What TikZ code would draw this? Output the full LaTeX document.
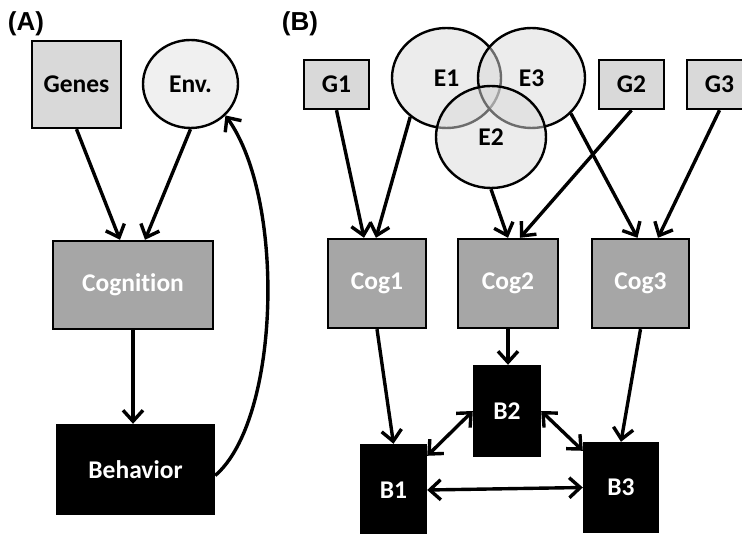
\documentclass[tikz,border=0pt]{standalone}
\usepackage{fontspec}
\setmainfont{Carlito}[Ligatures={NoCommon,NoRare,NoDiscretionary}]
\newfontfamily\labelfont{Liberation Sans}
\usetikzlibrary{arrows.meta,shapes.geometric}
\definecolor{genefill}{HTML}{D9D9D9}
\definecolor{envfill}{HTML}{F0F0F0}
\definecolor{cogfill}{HTML}{A6A6A6}
\begin{document}
\begin{tikzpicture}[x=1pt,y=-1pt,
  box/.style={draw=black, line width=2.4pt, inner sep=0pt, font=\fontsize{25.5}{29}\selectfont\bfseries},
  genebox/.style={box, fill=genefill},
  cogbox/.style={box, fill=cogfill, text=white},
  behbox/.style={box, fill=black, text=white},
  envnode/.style={ellipse, draw=black, line width=2.4pt, inner sep=0pt, font=\fontsize{25.5}{29}\selectfont\bfseries},
  venn/.style={envnode, fill=black!15, fill opacity=0.5, text opacity=1},
  arr/.style={line width=3.4pt, -{Straight Barb[length=11pt,width=20pt]}},
  darr/.style={line width=3.4pt, {Straight Barb[length=11pt,width=20pt]}-{Straight Barb[length=11pt,width=20pt]}},
  panel/.style={font=\labelfont\fontsize{26}{30}\selectfont\bfseries, inner sep=0pt}]
\useasboundingbox (0,0) rectangle (742,534);
\clip (0,0) rectangle (742,534);
% Panel A
\node[panel] (labA) at (26,24) {(A)};
\node[genebox, minimum width=89pt, minimum height=87pt] (genes) at (76.5,84.5) {Genes};
\node[envnode, fill=envfill, minimum width=95pt, minimum height=88pt] (env) at (190.5,84) {Env.};
\node[cogbox, minimum width=160pt, minimum height=88pt] (cog) at (133,285) {Cognition};
\node[behbox, minimum width=157pt, minimum height=89pt] (beh) at (135.5,469.5) {Behavior};
\draw[arr] (genes.south) -- ([xshift=-13pt]cog.north);
\draw[arr] (env.south) -- ([xshift=12pt]cog.north);
\draw[arr] (cog.south) -- (cog.south |- beh.north);
\draw[arr] ([yshift=-6pt]beh.east) .. controls (280,420) and (286,200) .. (env.-42);
% Panel B
\node[panel] (labB) at (300,24) {(B)};
\node[genebox, minimum width=65pt, minimum height=49pt] (g1) at (336.5,84.5) {G1};
\node[genebox, minimum width=65pt, minimum height=49pt] (g2) at (631.5,84.5) {G2};
\node[genebox, minimum width=65pt, minimum height=49pt] (g3) at (719.5,84.5) {G3};
\node[venn, minimum width=109pt, minimum height=100pt] (e1) at (446.5,78) {E1};
\node[venn, minimum width=107pt, minimum height=100pt] (e3) at (531.5,78) {E3};
\node[venn, minimum width=110pt, minimum height=102pt] (e2) at (491,137) {E2};
\node[cogbox, minimum width=98pt, minimum height=89pt] (cog1) at (377,283.5) {Cog1};
\node[cogbox, minimum width=100pt, minimum height=89pt] (cog2) at (508,283.5) {Cog2};
\node[cogbox, minimum width=97pt, minimum height=89pt] (cog3) at (640.5,283.5) {Cog3};
\node[behbox, minimum width=66pt, minimum height=90pt] (b2) at (507,411) {B2};
\node[behbox, minimum width=65pt, minimum height=90pt] (b1) at (393.5,490) {B1};
\node[behbox, minimum width=74pt, minimum height=89pt] (b3) at (621,487.5) {B3};
\draw[arr] (g1.south) -- ([xshift=-13pt]cog1.north);
\draw[arr] (e1.-133) -- ([xshift=-1pt]cog1.north);
\draw[arr] (e2.south) -- (cog2.north);
\draw[arr] (g2.south) -- ([xshift=12pt]cog2.north);
\draw[arr] (e3.-42) -- ([xshift=-3pt]cog3.north);
\draw[arr] (g3.south) -- ([xshift=17.5pt]cog3.north);
\draw[arr] (cog1.south) -- (b1.north);
\draw[arr] (cog2.south) -- (cog2.south |- b2.north);
\draw[arr] (cog3.south) -- (b3.north);
\draw[darr] ([yshift=-12pt]b1.north east) -- (b2.west);
\draw[darr] (b2.east) -- ([yshift=-9pt]b3.north west);
\draw[darr] (b1.east) -- (b3.west);
\end{tikzpicture}
\end{document}
